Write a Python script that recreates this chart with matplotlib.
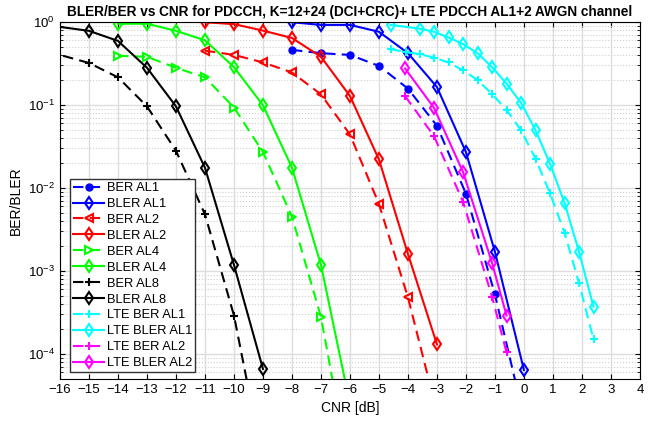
import numpy as np
import matplotlib
matplotlib.use('Agg')
import matplotlib.pyplot as plt

plt.rcParams['font.family'] = ['Liberation Sans', 'DejaVu Sans']

# AL8
x_al8 = [-17, -15, -14, -13, -12, -11, -10, -9]
ber_al8 = [0.50, 0.32, 0.215, 0.096, 0.028, 0.0048, 2.9e-4, 5e-6]
bler_al8 = [0.97, 0.78, 0.59, 0.28, 0.096, 0.0175, 0.00118, 6.6e-5]

# AL4
x_al4 = [-14, -13, -12, -11, -10, -9, -8, -7, -6]
ber_al4 = [0.39, 0.38, 0.28, 0.215, 0.093, 0.027, 0.0045, 2.8e-4, 3.5e-6]
bler_al4 = [0.95, 0.95, 0.78, 0.60, 0.285, 0.099, 0.0175, 0.00118, 2.5e-5]

# AL2
x_al2 = [-11, -10, -9, -8, -7, -6, -5, -4, -3]
ber_al2 = [0.45, 0.40, 0.325, 0.246, 0.134, 0.044, 0.0064, 4.8e-4, 2e-5]
bler_al2 = [0.99, 0.94, 0.785, 0.64, 0.38, 0.128, 0.022, 0.0016, 1.3e-4]

# AL1
x_al1 = [-8, -7, -6, -5, -4, -3, -2, -1, 0]
ber_al1 = [0.46, 0.42, 0.40, 0.295, 0.157, 0.056, 0.0085, 5.2e-4, 1.7e-5]
bler_al1 = [0.99, 0.92, 0.92, 0.76, 0.42, 0.164, 0.027, 0.0017, 6.4e-5]

# LTE AL1
x_lte1_ber = [-4.6, -4.05, -3.6, -3.1, -2.6, -2.1, -1.6, -1.1, -0.6, -0.1, 0.4, 0.9, 1.4, 1.9, 2.4]
ber_lte1 = [0.47, 0.43, 0.41, 0.37, 0.325, 0.26, 0.20, 0.135, 0.087, 0.0495, 0.0225, 0.0086, 0.0029, 7.1e-4, 1.5e-4]
x_lte1_bler = [-4.6, -3.6, -3.1, -2.6, -2.1, -1.6, -1.1, -0.6, -0.1, 0.4, 0.9, 1.4, 1.9, 2.4]
bler_lte1 = [0.92, 0.83, 0.76, 0.65, 0.54, 0.42, 0.285, 0.18, 0.106, 0.0495, 0.0195, 0.0066, 0.0017, 3.7e-4]

# LTE AL2
x_lte2 = [-4.1, -3.1, -2.1, -1.1, -0.6]
ber_lte2 = [0.128, 0.042, 0.0068, 4.9e-4, 1.04e-4]
bler_lte2 = [0.275, 0.092, 0.0155, 0.00125, 2.9e-4]

fig = plt.figure(figsize=(6.57, 4.21), dpi=100)
ax = fig.add_axes([0.0913, 0.100, 0.8827, 0.848])

dash = (0, (5, 3))
kw = dict(linewidth=1.5, markersize=6, markeredgewidth=1.5)
cyan = (0, 1, 1)
magenta = (1, 0, 1)
green = (0, 1, 0)

ax.semilogy(x_al1, ber_al1, color='b', linestyle=dash, marker='o', markersize=5, linewidth=1.5, label='BER AL1')
ax.semilogy(x_al1, bler_al1, color='b', linestyle='-', marker='d', markerfacecolor='none', label='BLER AL1', **kw)
ax.semilogy(x_al2, ber_al2, color='r', linestyle=dash, marker='<', markerfacecolor='none', label='BER AL2', **kw)
ax.semilogy(x_al2, bler_al2, color='r', linestyle='-', marker='d', markerfacecolor='none', label='BLER AL2', **kw)
ax.semilogy(x_al4, ber_al4, color=green, linestyle=dash, marker='>', markerfacecolor='none', label='BER AL4', **kw)
ax.semilogy(x_al4, bler_al4, color=green, linestyle='-', marker='d', markerfacecolor='none', label='BLER AL4', **kw)
ax.semilogy(x_al8, ber_al8, color='k', linestyle=dash, marker='+', label='BER AL8', **kw)
ax.semilogy(x_al8, bler_al8, color='k', linestyle='-', marker='d', markerfacecolor='none', label='BLER AL8', **kw)
ax.semilogy(x_lte1_ber, ber_lte1, color=cyan, linestyle=dash, marker='+', label='LTE BER AL1', **kw)
ax.semilogy(x_lte1_bler, bler_lte1, color=cyan, linestyle='-', marker='d', markerfacecolor='none', label='LTE BLER AL1', **kw)
ax.semilogy(x_lte2, ber_lte2, color=magenta, linestyle=dash, marker='+', label='LTE BER AL2', **kw)
ax.semilogy(x_lte2, bler_lte2, color=magenta, linestyle='-', marker='d', markerfacecolor='none', label='LTE BLER AL2', **kw)

ax.set_xlim(-16, 4)
ax.set_ylim(5e-5, 1)
ax.set_xticks(np.arange(-16, 5, 1))
ax.tick_params(labelsize=9.5, direction='in', which='both', top=True, right=True)
ax.grid(True, which='major', color='#dddddd', linewidth=1)
ax.grid(True, which='minor', color='#d0d0d0', linestyle=':', linewidth=0.8)
ax.set_axisbelow(True)

ax.set_xlabel('CNR [dB]', fontsize=10)
ax.set_ylabel('BER/BLER', fontsize=10)
ax.set_title('BLER/BER vs CNR for PDCCH, K=12+24 (DCI+CRC)+ LTE PDCCH AL1+2 AWGN channel',
             fontsize=9.8, fontweight='bold', pad=4)

leg = ax.legend(loc='lower left', bbox_to_anchor=(0.017, 0.018), fontsize=9.3, fancybox=False,
                edgecolor='#333333', framealpha=1, handlelength=2.4, borderpad=0.25,
                labelspacing=0.3, handletextpad=0.2, borderaxespad=0)
leg.get_frame().set_linewidth(1)

fig.savefig('out.png', dpi=100)
